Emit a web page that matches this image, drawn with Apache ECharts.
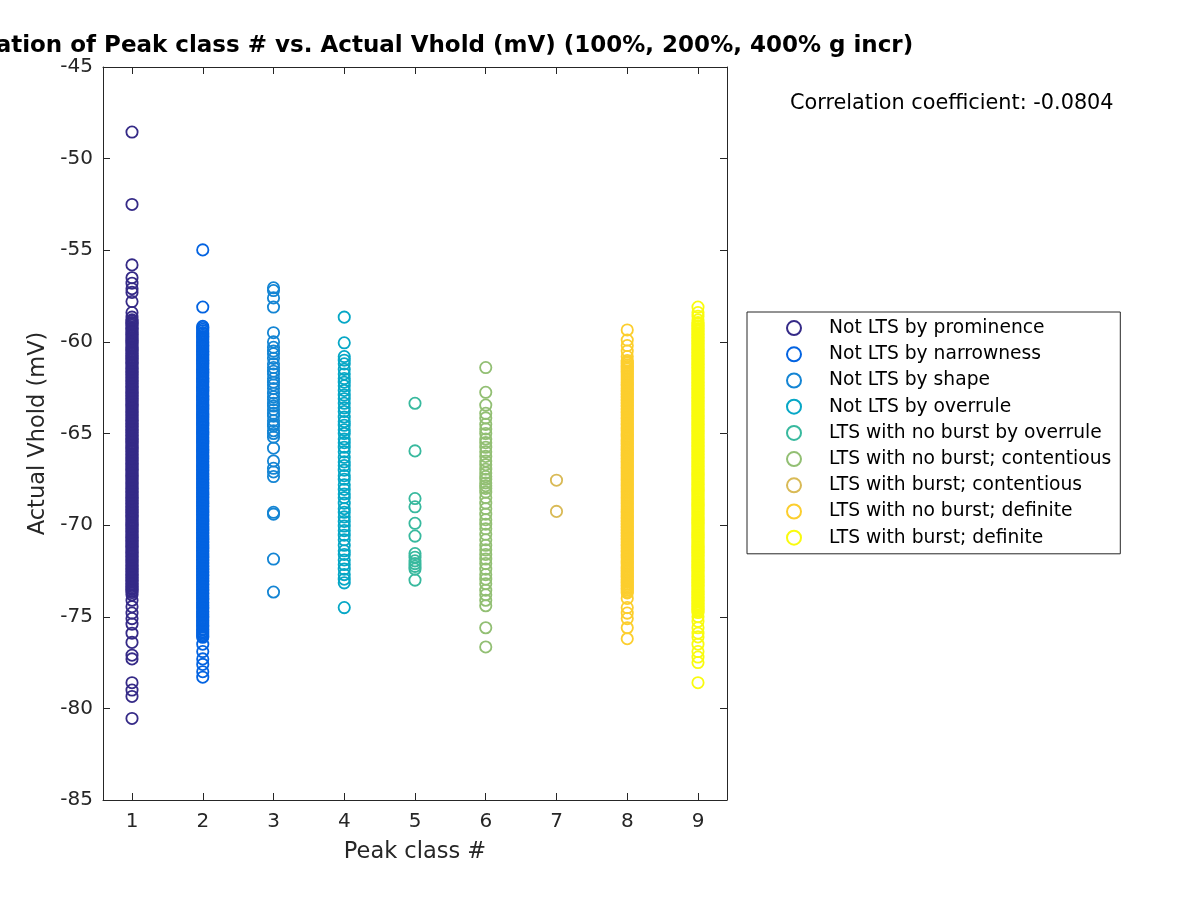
<!DOCTYPE html>
<html>
<head>
<meta charset="utf-8">
<script src="https://cdn.jsdelivr.net/npm/echarts@6/dist/echarts.min.js"></script>
<style>html,body{margin:0;padding:0;background:#fff}#c{width:1200px;height:900px}</style>
</head>
<body>
<div id="c"></div>
<script>
const classNames = [
  'Not LTS by prominence','Not LTS by narrowness','Not LTS by shape','Not LTS by overrule',
  'LTS with no burst by overrule','LTS with no burst; contentious','LTS with burst; contentious',
  'LTS with no burst; definite','LTS with burst; definite'
];
const classNumbers = [1,2,3,4,5,6,7,8,9];
const xTicks = [1,2,3,4,5,6,7,8,9];
const yTicks = [-85,-80,-75,-70,-65,-60,-55,-50,-45];
const colors = ['#352A87','#0363E1','#1485D4','#06A7C6','#38B99E','#92BF73','#D9BA56','#FCCE2E','#F9FB0E'];
const titleText = 'Correlation of Peak class # vs. Actual Vhold (mV) (100%, 200%, 400% g incr)';
const corrText = 'Correlation coefficient: -0.0804';

const vhold1 = [-48.55,-52.5,-55.8,-56.5,-56.8,-57.1,-57.3,-57.8,-58.4,-58.65,
-58.80,-58.87,-58.95,-59.03,-59.10,-59.21,-59.28,-59.36,-59.45,-59.51,-59.60,-59.69,-59.77,-59.84,-59.93,-60.02,-60.08,-60.17,-60.26,-60.33,-60.41,-60.50,-60.58,-60.65,-60.74,-60.83,-60.90,-60.99,-61.07,-61.15,-61.22,-61.31,-61.40,-61.47,-61.55,-61.64,-61.71,-61.80,-61.88,-61.96,-62.04,-62.13,-62.20,-62.29,-62.37,-62.45,-62.52,-62.61,-62.70,-62.77,-62.85,-62.94,-63.01,-63.10,-63.18,-63.26,-63.33,-63.42,-63.50,-63.58,-63.66,-63.75,-63.82,-63.90,-63.99,-64.06,-64.15,-64.23,-64.31,-64.38,-64.47,-64.55,-64.63,-64.71,-64.80,-64.87,-64.95,-65.04,-65.11,-65.20,-65.28,-65.36,-65.43,-65.52,-65.60,-65.68,-65.76,-65.85,-65.92,-66.00,-66.09,-66.16,-66.25,-66.33,-66.41,-66.48,-66.57,-66.65,-66.73,-66.81,-66.90,-66.97,-67.05,-67.14,-67.21,-67.30,-67.38,-67.46,-67.53,-67.62,-67.70,-67.78,-67.86,-67.95,-68.02,-68.10,-68.19,-68.26,-68.35,-68.43,-68.51,-68.58,-68.67,-68.75,-68.83,-68.91,-69.00,-69.07,-69.15,-69.24,-69.31,-69.40,-69.48,-69.56,-69.63,-69.72,-69.80,-69.88,-69.96,-70.05,-70.12,-70.20,-70.29,-70.36,-70.45,-70.53,-70.61,-70.68,-70.77,-70.85,-70.93,-71.01,-71.10,-71.17,-71.25,-71.34,-71.41,-71.50,-71.58,-71.66,-71.73,-71.82,-71.90,-71.98,-72.06,-72.15,-72.22,-72.30,-72.39,-72.46,-72.55,-72.63,-72.71,-72.78,-72.87,-72.95,-73.03,-73.11,-73.20,-73.27,-73.35,-73.44,-73.51,-73.60,-73.68,
-73.8,-74.1,-74.45,-74.8,-75.1,-75.4,-75.9,-76.4,-77.1,-77.3,-78.6,-79.0,-79.35,-80.55];

const vhold2 = [-54.98,-58.1,
-59.15,-59.22,-59.31,-59.39,-59.49,-59.55,-59.64,-59.71,-59.80,-59.88,-59.98,-60.04,-60.13,-60.20,-60.29,-60.37,-60.47,-60.53,-60.62,-60.69,-60.78,-60.86,-60.96,-61.02,-61.11,-61.18,-61.27,-61.35,-61.45,-61.51,-61.60,-61.67,-61.76,-61.84,-61.94,-62.00,-62.09,-62.16,-62.25,-62.33,-62.43,-62.49,-62.58,-62.65,-62.74,-62.82,-62.92,-62.98,-63.07,-63.14,-63.23,-63.31,-63.41,-63.47,-63.56,-63.63,-63.72,-63.80,-63.90,-63.96,-64.05,-64.12,-64.21,-64.29,-64.39,-64.45,-64.54,-64.61,-64.70,-64.78,-64.88,-64.94,-65.03,-65.10,-65.19,-65.27,-65.37,-65.43,-65.52,-65.59,-65.68,-65.76,-65.86,-65.92,-66.01,-66.08,-66.17,-66.25,-66.35,-66.41,-66.50,-66.57,-66.66,-66.74,-66.84,-66.90,-66.99,-67.06,-67.15,-67.23,-67.33,-67.39,-67.48,-67.55,-67.64,-67.72,-67.82,-67.88,-67.97,-68.04,-68.13,-68.21,-68.31,-68.37,-68.46,-68.53,-68.62,-68.70,-68.80,-68.86,-68.95,-69.02,-69.11,-69.19,-69.29,-69.35,-69.44,-69.51,-69.60,-69.68,-69.78,-69.84,-69.93,-70.00,-70.09,-70.17,-70.27,-70.33,-70.42,-70.49,-70.58,-70.66,-70.76,-70.82,-70.91,-70.98,-71.07,-71.15,-71.25,-71.31,-71.40,-71.47,-71.56,-71.64,-71.74,-71.80,-71.89,-71.96,-72.05,-72.13,-72.23,-72.29,-72.38,-72.45,-72.54,-72.62,-72.72,-72.78,-72.87,-72.94,-73.03,-73.11,-73.21,-73.27,-73.36,-73.43,-73.52,-73.60,-73.70,-73.76,-73.85,-73.92,-74.01,-74.09,-74.19,-74.25,-74.34,-74.41,-74.50,-74.58,-74.68,-74.74,-74.83,-74.90,-74.99,-75.07,-75.17,-75.23,-75.32,-75.39,-75.48,-75.56,-75.66,-75.72,-75.81,-75.88,-75.97,-76.05,-76.12,
-76.5,-76.9,-77.3,-77.6,-78.0,-78.3];

const vhold3 = [-57.05,-57.2,-57.6,-58.1,-59.5,-60.0,-60.3,-60.5,-60.65,-60.9,-61.2,-61.4,-61.6,-61.75,-62.0,-62.2,-62.35,-62.55,-62.8,-63.0,-63.15,-63.35,-63.5,-63.7,-63.9,-64.05,-64.3,-64.5,-64.6,-64.85,-65.0,-65.2,-65.8,-66.5,-66.9,-67.1,-67.35,-69.3,-69.4,-71.85,-73.65];

const vhold4 = [-58.65,-60.05,-60.8,-61.0,-61.2,-61.5,-61.75,-62.0,-62.2,-62.4,-62.65,-62.9,-63.1,-63.35,-63.6,-63.8,-64.1,-64.35,-64.55,-64.8,-65.0,-65.3,-65.5,-65.75,-66.0,-66.3,-66.55,-66.75,-67.0,-67.3,-67.5,-67.8,-68.05,-68.3,-68.5,-68.8,-69.1,-69.3,-69.55,-69.8,-70.05,-70.3,-70.55,-70.8,-71.1,-71.4,-71.6,-71.9,-72.15,-72.4,-72.7,-72.95,-73.15,-74.5];

const vhold5 = [-63.35,-65.95,-68.55,-69.0,-69.9,-70.6,-71.55,-71.75,-71.95,-72.1,-72.25,-72.4,-73.0];

const vhold6 = [-61.4,-62.75,-63.45,-63.9,-64.15,-64.5,-64.75,-65.0,-65.3,-65.5,-65.75,-66.0,-66.25,-66.5,-66.7,-66.95,-67.15,-67.35,-67.5,-67.7,-67.85,-68.0,-68.2,-68.5,-68.8,-69.1,-69.4,-69.7,-69.95,-70.2,-70.5,-70.8,-71.1,-71.35,-71.6,-71.85,-72.1,-72.4,-72.7,-72.95,-73.2,-73.55,-73.8,-74.1,-74.4,-75.6,-76.65];

const vhold7 = [-67.55,-69.25];

const vhold8 = [-59.35,-59.9,-60.2,-60.5,-60.8,
-61.02,-61.10,-61.17,-61.27,-61.34,-61.43,-61.50,-61.60,-61.67,-61.75,-61.84,-61.91,-62.00,-62.08,-62.17,-62.24,-62.33,-62.41,-62.50,-62.57,-62.66,-62.74,-62.83,-62.90,-62.99,-63.07,-63.16,-63.23,-63.32,-63.40,-63.49,-63.56,-63.65,-63.73,-63.82,-63.89,-63.98,-64.06,-64.15,-64.22,-64.31,-64.39,-64.48,-64.55,-64.64,-64.72,-64.81,-64.88,-64.97,-65.05,-65.14,-65.21,-65.30,-65.38,-65.47,-65.54,-65.63,-65.71,-65.80,-65.87,-65.96,-66.04,-66.13,-66.20,-66.29,-66.37,-66.46,-66.53,-66.62,-66.70,-66.79,-66.86,-66.95,-67.03,-67.12,-67.19,-67.28,-67.36,-67.45,-67.52,-67.61,-67.69,-67.78,-67.85,-67.94,-68.02,-68.11,-68.18,-68.27,-68.35,-68.44,-68.51,-68.60,-68.68,-68.77,-68.84,-68.93,-69.01,-69.10,-69.17,-69.26,-69.34,-69.43,-69.50,-69.59,-69.67,-69.76,-69.83,-69.92,-70.00,-70.09,-70.16,-70.25,-70.33,-70.42,-70.49,-70.58,-70.66,-70.75,-70.82,-70.91,-70.99,-71.08,-71.15,-71.24,-71.32,-71.41,-71.48,-71.57,-71.65,-71.74,-71.81,-71.90,-71.98,-72.07,-72.14,-72.23,-72.31,-72.40,-72.47,-72.56,-72.64,-72.73,-72.80,-72.89,-72.97,-73.06,-73.13,-73.22,-73.30,-73.39,-73.46,-73.55,-73.63,-73.70,
-74.0,-74.5,-74.8,-75.1,-75.6,-76.2];

const vhold9 = [-58.1,-58.4,-58.6,-58.8,
-58.95,-59.03,-59.12,-59.19,-59.28,-59.36,-59.44,-59.53,-59.60,-59.69,-59.77,-59.85,-59.94,-60.01,-60.10,-60.18,-60.26,-60.35,-60.42,-60.51,-60.59,-60.67,-60.76,-60.83,-60.92,-61.00,-61.08,-61.17,-61.24,-61.33,-61.41,-61.49,-61.58,-61.65,-61.74,-61.82,-61.90,-61.99,-62.06,-62.15,-62.23,-62.31,-62.40,-62.47,-62.56,-62.64,-62.72,-62.81,-62.88,-62.97,-63.05,-63.13,-63.22,-63.29,-63.38,-63.46,-63.54,-63.63,-63.70,-63.79,-63.87,-63.95,-64.04,-64.11,-64.20,-64.28,-64.36,-64.45,-64.52,-64.61,-64.69,-64.77,-64.86,-64.93,-65.02,-65.10,-65.18,-65.27,-65.34,-65.43,-65.51,-65.59,-65.68,-65.75,-65.84,-65.92,-66.00,-66.09,-66.16,-66.25,-66.33,-66.41,-66.50,-66.57,-66.66,-66.74,-66.82,-66.91,-66.98,-67.07,-67.15,-67.23,-67.32,-67.39,-67.48,-67.56,-67.64,-67.73,-67.80,-67.89,-67.97,-68.05,-68.14,-68.21,-68.30,-68.38,-68.46,-68.55,-68.62,-68.71,-68.79,-68.87,-68.96,-69.03,-69.12,-69.20,-69.28,-69.37,-69.44,-69.53,-69.61,-69.69,-69.78,-69.85,-69.94,-70.02,-70.10,-70.19,-70.26,-70.35,-70.43,-70.51,-70.60,-70.67,-70.76,-70.84,-70.92,-71.01,-71.08,-71.17,-71.25,-71.33,-71.42,-71.49,-71.58,-71.66,-71.74,-71.83,-71.90,-71.99,-72.07,-72.15,-72.24,-72.31,-72.40,-72.48,-72.56,-72.65,-72.72,-72.81,-72.89,-72.97,-73.06,-73.13,-73.22,-73.30,-73.38,-73.47,-73.54,-73.63,-73.71,-73.79,-73.88,-73.95,-74.04,-74.12,-74.20,-74.29,-74.36,-74.45,-74.53,-74.61,-74.70,-74.77,
-75.0,-75.25,-75.6,-75.9,-76.1,-76.5,-76.9,-77.2,-77.5,-78.6];

const vholdByClass = [vhold1,vhold2,vhold3,vhold4,vhold5,vhold6,vhold7,vhold8,vhold9];

const FONT = 'DejaVu Sans';
const AX = '#262626';

const series = classNames.map((name, i) => ({
  name: name,
  type: 'scatter',
  xAxisIndex: 0,
  yAxisIndex: 0,
  symbol: 'circle',
  symbolSize: 11.3,
  color: colors[i],
  itemStyle: { color: 'transparent', borderColor: colors[i], borderWidth: 1.8, opacity: 1 },
  emphasis: { disabled: true },
  silent: true,
  data: vholdByClass[i].map(v => [classNumbers[i], v])
}));

const xCommon = {
  type: 'value', min: 0.59, max: 9.41,
  splitLine: { show: false },
  axisLine: { show: true, onZero: false, lineStyle: { color: AX, width: 1 } },
  axisTick: { show: true, inside: true, length: 7, customValues: xTicks, lineStyle: { color: AX } }
};
const yCommon = {
  type: 'value', min: -85, max: -45, interval: 5,
  splitLine: { show: false },
  axisLine: { show: true, onZero: false, lineStyle: { color: AX, width: 1 } },
  axisTick: { show: true, inside: true, length: 7, lineStyle: { color: AX } }
};

const chart = echarts.init(document.getElementById('c'), null, { renderer: 'canvas' });
chart.setOption({
  animation: false,
  backgroundColor: '#fff',
  grid: { left: 103, top: 67, width: 624, height: 733, containLabel: false },
  xAxis: [
    Object.assign({}, xCommon, {
      position: 'bottom',
      name: 'Peak class #', nameLocation: 'middle', nameGap: 41,
      nameTextStyle: { fontFamily: FONT, fontSize: 22.5, color: AX },
      axisLabel: { show: true, customValues: xTicks, margin: 12, fontFamily: FONT, fontSize: 20, color: AX }
    }),
    Object.assign({}, xCommon, { position: 'top', axisLabel: { show: false } })
  ],
  yAxis: [
    Object.assign({}, yCommon, {
      position: 'left',
      name: 'Actual Vhold (mV)', nameLocation: 'middle', nameGap: 45,
      nameTextStyle: { fontFamily: FONT, fontSize: 22.5, color: AX },
      axisLabel: { show: true, margin: 10, fontFamily: FONT, fontSize: 20, color: AX }
    }),
    Object.assign({}, yCommon, { position: 'right', axisLabel: { show: false } })
  ],
  legend: {
    show: true,
    orient: 'vertical',
    left: 747, top: 312,
    padding: [6, 9, 6, 39],
    itemGap: 6,
    itemWidth: 14, itemHeight: 14,
    borderColor: '#262626', borderWidth: 1, backgroundColor: '#fff',
    selectedMode: false,
    textStyle: { fontFamily: FONT, fontSize: 18.7, color: '#000', lineHeight: 20.2, padding: [0, 0, 0, 23] },
    data: classNames
  },
  graphic: [
    { type: 'text', x: 415, y: 46, style: { text: titleText, fill: '#000', font: 'bold 23px "DejaVu Sans"', textAlign: 'center', textVerticalAlign: 'middle' } },
    { type: 'text', x: 790, y: 104, style: { text: corrText, fill: '#000', font: '20.8px "DejaVu Sans"', textAlign: 'left', textVerticalAlign: 'middle' } }
  ],
  series: series
});
</script>
</body>
</html>
